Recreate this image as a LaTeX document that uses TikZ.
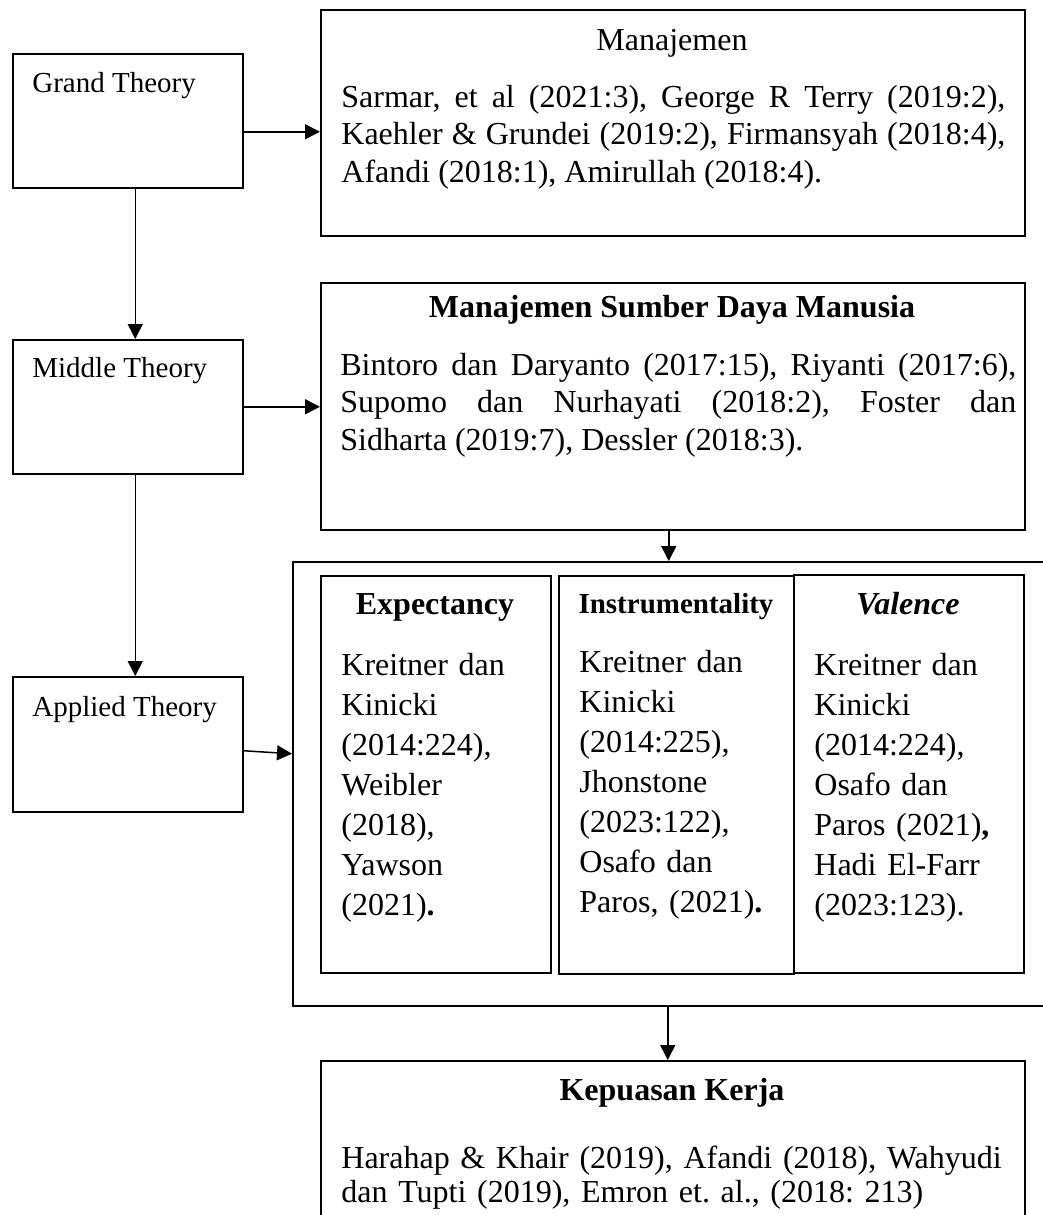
\documentclass[tikz,border=0pt]{standalone}
\usepackage{fontspec}
\setmainfont{Liberation Serif}
\usetikzlibrary{arrows.meta,positioning}
\frenchspacing

\newcommand{\reflist}[2]{\parbox[t]{#1}{\tolerance=10000\relax
  \hyphenpenalty=10000\relax #2}}

\tikzset{
  box/.style={draw, line width=0.75pt, inner sep=0pt, anchor=north west},
  theory/.style={font=\fontsize{14.5}{17}\selectfont, anchor=base west, inner sep=0pt},
  head/.style={font=\fontsize{16}{19}\selectfont, anchor=base, inner sep=0pt},
  refs/.style={font=\fontsize{16}{18.75}\selectfont, anchor=base west, inner sep=0pt},
  cite/.style={font=\fontsize{16}{20}\selectfont, text width=95pt, align=left,
    anchor=base west, inner sep=0pt},
  arr/.style={-{Triangle[length=7.5pt,width=7.5pt]}, line width=0.75pt},
}

\begin{document}
\begin{tikzpicture}[x=0.5pt,y=-0.5pt]
\path[use as bounding box, clip] (0,0) rectangle (1043,1215);

% theory levels
\node[box, minimum width=115pt, minimum height=67pt] (grand) at (12,53) {};
\node[box, minimum width=115pt, minimum height=67pt] (middle) at (12,339) {};
\node[box, minimum width=115pt, minimum height=67.5pt] (applied) at (12,676) {};
\node[theory] (grandlbl) at (32,92) {Grand Theory};
\node[theory] (middlelbl) at (32,377) {Middle Theory};
\node[theory] (appliedlbl) at (32,716) {Applied Theory};

% manajemen
\node[box, minimum width=352pt, minimum height=113pt] (man) at (320,9) {};
\node[head] (mantitle) at (672,50) {Manajemen};
\node[refs] (manrefs) at (341,107) {\reflist{332pt}{Sarmar, et al (2021:3), George R Terry (2019:2),\linebreak
  Kaehler \& Grundei (2019:2), Firmansyah (2018:4),\linebreak
  Afandi (2018:1), Amirullah (2018:4).}};

% msdm
\node[box, minimum width=352pt, minimum height=123.5pt] (msdm) at (320,282) {};
\node[head] (msdmtitle) at (672,317) {\textbf{Manajemen Sumber Daya Manusia}};
\node[refs] (msdmrefs) at (340,375) {\reflist{338pt}{Bintoro dan Daryanto (2017:15), Riyanti (2017:6),\linebreak
  Supomo dan Nurhayati (2018:2), Foster dan\linebreak
  Sidharta (2019:7), Dessler (2018:3).}};

% applied theory: three dimensions
\node[box, minimum width=384pt, minimum height=222pt] (outer) at (292,561) {};
\node[box, minimum width=115pt, minimum height=198.5pt] (exp) at (320,575) {};
\node[box, minimum width=117.5pt, minimum height=199pt] (ins) at (558,575) {};
\node[box, minimum width=115pt, minimum height=199pt] (val) at (793,574) {};
\node[head] (exptitle) at (435,614) {\textbf{Expectancy}};
\node[head, font=\fontsize{14.5}{17}\selectfont] (institle) at (676,613) {\textbf{Instrumentality}};
\node[head] (valtitle) at (908,614) {\textbf{\textit{Valence}}};
\node[cite] (exprefs) at (341,675) {Kreitner dan\\Kinicki\\(2014:224),\\Weibler\\(2018),\\Yawson\\(2021)\textbf{.}};
\node[cite] (insrefs) at (579,672) {Kreitner dan\\Kinicki\\(2014:225),\\Jhonstone\\(2023:122),\\Osafo dan\\Paros, (2021)\textbf{.}};
\node[cite] (valrefs) at (814,675) {Kreitner dan\\Kinicki\\(2014:224),\\Osafo dan\\Paros (2021)\textbf{,}\\Hadi El-Farr\\(2023:123).};

% kepuasan kerja
\node[box, minimum width=352pt, minimum height=100pt] (kep) at (320,1060) {};
\node[head] (keptitle) at (672,1100) {\textbf{Kepuasan Kerja}};
\node[cite, text width=340pt, font=\fontsize{16}{17}\selectfont] (keprefs) at (341,1168) {Harahap \& Khair (2019), Afandi (2018), Wahyudi\\
  dan Tupti (2019), Emron et. al., (2018: 213)};

% connectors
\draw[arr] ([yshift=-5.5pt]grand.east) -- ([yshift=-5.5pt]grand.east -| man.west);
\draw[arr] ([xshift=3.75pt]grand.south) -- ([xshift=3.75pt]grand.south |- middle.north);
\draw[arr] (middle.east) -- (middle.east -| msdm.west);
\draw[arr] ([xshift=3.75pt]middle.south) -- ([xshift=3.75pt]middle.south |- applied.north);
\draw[arr] ([yshift=-3.25pt]applied.east) -- ([yshift=15pt]outer.west);
\draw[arr] ([xshift=-2pt]msdm.south) -- ([xshift=-2pt]msdm.south |- outer.north);
\draw[arr] ([xshift=-2.5pt]kep.north |- outer.south) -- ([xshift=-2.5pt]kep.north);
\end{tikzpicture}
\end{document}
